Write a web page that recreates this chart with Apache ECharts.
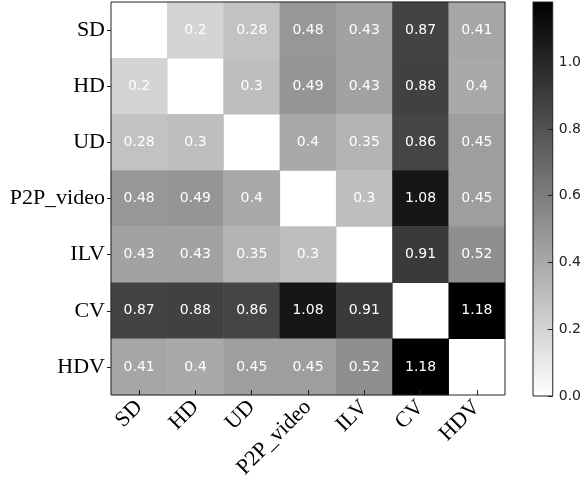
<!DOCTYPE html>
<html>
<head>
<meta charset="utf-8">
<script src="https://cdn.jsdelivr.net/npm/echarts@6/dist/echarts.min.js"></script>
<style>
html,body{margin:0;padding:0;background:#fff;}
#c{width:584px;height:485px;}
</style>
</head>
<body>
<div id="c"></div>
<script>
var categories = ['SD', 'HD', 'UD', 'P2P_video', 'ILV', 'CV', 'HDV'];
// rows (top to bottom), null on the diagonal
var rowSD   = [null, 0.2, 0.28, 0.48, 0.43, 0.87, 0.41];
var rowHD   = [0.2, null, 0.3, 0.49, 0.43, 0.88, 0.4];
var rowUD   = [0.28, 0.3, null, 0.4, 0.35, 0.86, 0.45];
var rowP2P  = [0.48, 0.49, 0.4, null, 0.3, 1.08, 0.45];
var rowILV  = [0.43, 0.43, 0.35, 0.3, null, 0.91, 0.52];
var rowCV   = [0.87, 0.88, 0.86, 1.08, 0.91, null, 1.18];
var rowHDV  = [0.41, 0.4, 0.45, 0.45, 0.52, 1.18, null];
var rows = [rowSD, rowHD, rowUD, rowP2P, rowILV, rowCV, rowHDV];
var colorMin = 0, colorMax = 1.18;
var colorbarTicks = [0, 0.2, 0.4, 0.6, 0.8, 1.0];
var colorbarCategory = ['bar'];
var colorbarValue = [colorMax];

var data = [];
rows.forEach(function (row, r) {
  row.forEach(function (v, c) {
    if (v !== null) data.push([c, r, v]);
  });
});

var serif = 'Liberation Serif, Times New Roman, serif';
var sans = 'DejaVu Sans, sans-serif';

var chart = echarts.init(document.getElementById('c'), null, {renderer: 'canvas'});
chart.setOption({
  animation: false,
  backgroundColor: '#fff',
  grid: [
    {left: 111, top: 2, width: 394, height: 393, show: true, borderColor: '#222', borderWidth: 1, backgroundColor: 'transparent', z: 5},
    {left: 533, top: 2, width: 20, height: 394, show: true, borderColor: '#222', borderWidth: 1, backgroundColor: 'transparent', z: 5}
  ],
  xAxis: [
    {
      type: 'category', gridIndex: 0, data: categories, z: 10,
      axisLine: {show: false},
      axisTick: {show: true, alignWithLabel: true, inside: true, length: 5, lineStyle: {color: '#222'}},
      axisLabel: {rotate: 45, margin: 9, fontFamily: serif, fontSize: 22, color: '#000', interval: 0},
      splitLine: {show: false}
    },
    {type: 'category', gridIndex: 1, show: false, data: colorbarCategory}
  ],
  yAxis: [
    {
      type: 'category', gridIndex: 0, data: categories, inverse: true, z: 10,
      axisLine: {show: false},
      axisTick: {show: true, alignWithLabel: true, length: 4, lineStyle: {color: '#222'}},
      axisLabel: {margin: 6, fontFamily: serif, fontSize: 22, color: '#000', interval: 0},
      splitLine: {show: false}
    },
    {
      type: 'value', gridIndex: 1, position: 'right', min: colorMin, max: colorMax, interval: 0.2, z: 20,
      axisLine: {show: false},
      axisTick: {show: true, inside: true, length: 5, lineStyle: {color: '#222'}},
      axisLabel: {margin: 6, fontFamily: sans, fontSize: 14, color: '#222', showMaxLabel: false,
        formatter: function (v) { return colorbarTicks.some(function (t) { return Math.abs(t - v) < 1e-6; }) ? v.toFixed(1) : ''; }},
      splitLine: {show: false}
    }
  ],
  visualMap: {
    type: 'continuous', seriesIndex: 0, min: colorMin, max: colorMax,
    inRange: {color: ['#ffffff', '#000000']}, show: false
  },
  series: [{
    type: 'heatmap', xAxisIndex: 0, yAxisIndex: 0, data: data,
    label: {show: true, color: '#fff', fontFamily: sans, fontSize: 14,
      formatter: function (p) { return String(p.value[2]); }},
    itemStyle: {borderWidth: 0},
    emphasis: {disabled: true}
  }, {
    type: 'bar', xAxisIndex: 1, yAxisIndex: 1, data: colorbarValue, barWidth: '100%', silent: true,
    itemStyle: {color: new echarts.graphic.LinearGradient(0, 0, 0, 1, [{offset: 0, color: '#000000'}, {offset: 1, color: '#ffffff'}])}
  }]
});
</script>
</body>
</html>
